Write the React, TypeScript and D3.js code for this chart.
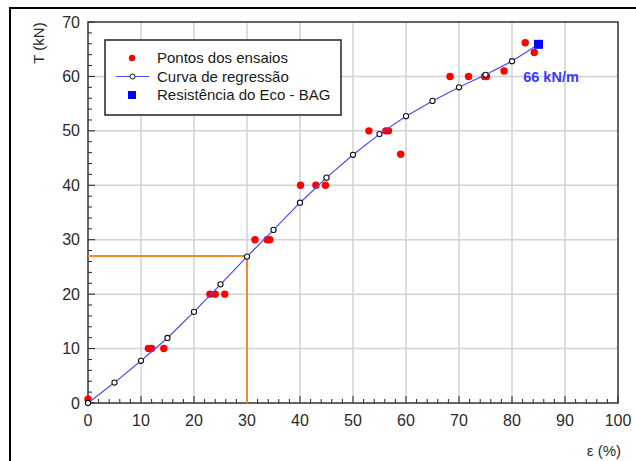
import React, { useEffect } from "react";
import * as d3 from "d3";

// curva de regressão (pontos marcados com círculos)
const regEps = [0, 5, 10, 15, 20, 25, 30, 35, 40, 45, 50, 55, 60, 65, 70, 75, 80];
const regT = [0, 3.75, 7.75, 11.95, 16.75, 21.8, 26.9, 31.8, 36.8, 41.4, 45.6, 49.4, 52.7, 55.5, 58.0, 60.3, 62.8];

// pontos dos ensaios
const testEps = [0, 11.4, 12.0, 14.3, 23.0, 24.0, 25.8, 31.5, 33.8, 34.3, 40.1, 43.0, 44.8, 53.0, 56.2, 56.7, 59.0, 68.3, 71.8, 74.8, 75.2, 78.5, 82.5, 84.2];
const testT = [0.7, 10, 10, 10, 20, 20, 20, 30, 30, 30, 40, 40, 40, 50, 50, 50, 45.7, 60, 60, 60, 60, 61, 66.2, 64.4];

// resistência do Eco - BAG
const ecoEps = [85];
const ecoT = [65.9];

// leitura a 30 %
const refEps = 30;
const refT = 27;

const xTicks = [0, 10, 20, 30, 40, 50, 60, 70, 80, 90, 100];
const yTicks = [0, 10, 20, 30, 40, 50, 60, 70];
const legendLabels = ["Pontos dos ensaios", "Curva de regressão", "Resistência do Eco - BAG"];

const W = 636;
const H = 461;
const margin = { top: 22, right: 18, bottom: 58, left: 88 };

const labelFont = "'Liberation Sans Narrow', 'Arial Narrow', 'Liberation Sans', Arial, sans-serif";
const textFont = "'Liberation Sans', Arial, sans-serif";

export default function App() {
  useEffect(() => {
    document.body.style.margin = "0";
  }, []);

  const x = d3.scaleLinear().domain([0, 100]).range([margin.left, W - margin.right]);
  const y = d3.scaleLinear().domain([0, 70]).range([H - margin.bottom, margin.top]);

  const line = d3.line<number>()
    .x((d, i) => x(i < regEps.length ? regEps[i] : ecoEps[0]))
    .y((d) => y(d));
  const curve = [...regT, ecoT[0]];

  const minorX = d3.range(0, 101, 2).filter((v) => v % 10 !== 0);
  const minorY = d3.range(0, 71, 2).filter((v) => v % 10 !== 0);

  const x0 = x(0), x1 = x(100), y0 = y(0), y1 = y(70);

  const lg = { x: 105, y: 40, w: 236, h: 75 };
  const rowY = [58, 76.5, 95];

  return (
    <svg width={W} height={H} style={{ display: "block" }}>
      <rect x={0} y={0} width={W} height={H} fill="#fff" />
      <rect x={10} y={8} width={W + 20} height={H + 20} fill="none" stroke="#000" strokeWidth={2} />

      {/* grade */}
      {xTicks.slice(1, -1).map((t) => (
        <line key={"gx" + t} x1={x(t)} x2={x(t)} y1={y0} y2={y1} stroke="#d2d2d2" strokeWidth={1.5} />
      ))}
      {yTicks.slice(1, -1).map((t) => (
        <line key={"gy" + t} x1={x0} x2={x1} y1={y(t)} y2={y(t)} stroke="#d2d2d2" strokeWidth={1.5} />
      ))}

      {/* ticks */}
      {minorX.map((t) => (
        <line key={"mx" + t} x1={x(t)} x2={x(t)} y1={y0} y2={y0 - 4} stroke="#222" strokeWidth={1} />
      ))}
      {xTicks.map((t) => (
        <line key={"tx" + t} x1={x(t)} x2={x(t)} y1={y0} y2={y0 - 7} stroke="#222" strokeWidth={1} />
      ))}
      {minorY.map((t) => (
        <line key={"my" + t} x1={x0} x2={x0 + 4} y1={y(t)} y2={y(t)} stroke="#222" strokeWidth={1} />
      ))}
      {yTicks.map((t) => (
        <line key={"ty" + t} x1={x0} x2={x0 + 7} y1={y(t)} y2={y(t)} stroke="#222" strokeWidth={1} />
      ))}

      <rect x={x0} y={y1} width={x1 - x0} height={y0 - y1} fill="none" stroke="#333" strokeWidth={1.5} />

      {/* rótulos dos eixos */}
      {xTicks.map((t) => (
        <text key={"lx" + t} x={x(t)} y={y0 + 23} textAnchor="middle" fontFamily={labelFont} fontSize={16} fill="#2a2a2a">{t}</text>
      ))}
      {yTicks.map((t) => (
        <text key={"ly" + t} x={x0 - 8} y={y(t)} dy="0.35em" textAnchor="end" fontFamily={labelFont} fontSize={16} fill="#2a2a2a">{t}</text>
      ))}
      <text x={621} y={456} textAnchor="end" fontFamily={textFont} fontSize={15} fill="#2a2a2a">ε (%)</text>
      <text transform="translate(44,43) rotate(-90)" textAnchor="middle" fontFamily={textFont} fontSize={15} fill="#2a2a2a">T (kN)</text>

      {/* leitura a 30% */}
      <path d={`M${x0},${y(refT)}H${x(refEps)}V${y0}`} fill="none" stroke="#f08a2c" strokeWidth={2} />

      {/* legenda */}
      <rect x={lg.x} y={lg.y} width={lg.w} height={lg.h} fill="#fff" stroke="#222" strokeWidth={1.5} />
      <circle cx={132} cy={rowY[0]} r={3.2} fill="#ff0000" />
      <line x1={116} x2={149} y1={rowY[1]} y2={rowY[1]} stroke="#4a4aff" strokeWidth={1.2} />
      <circle cx={132.5} cy={rowY[1]} r={2.5} fill="#fff" stroke="#111" strokeWidth={1} />
      <rect x={128} y={rowY[2] - 4} width={8} height={8} fill="#0000ff" />
      {legendLabels.map((s, i) => (
        <text key={s} x={157} y={rowY[i]} dy="0.35em" fontFamily={textFont} fontSize={15} fill="#1a1a1a">{s}</text>
      ))}

      {/* pontos dos ensaios */}
      {testEps.map((e, i) => (
        <circle key={"p" + i} cx={x(e)} cy={y(testT[i])} r={3.7} fill="#ff0000" />
      ))}

      {/* curva de regressão */}
      <path d={line(curve) || ""} fill="none" stroke="#4a4aff" strokeWidth={1.2} />
      {regEps.map((e, i) => (
        <circle key={"r" + i} cx={x(e)} cy={y(regT[i])} r={2.6} fill="#fff" stroke="#111" strokeWidth={1.1} />
      ))}

      {/* eco - BAG */}
      {ecoEps.map((e, i) => (
        <rect key={"e" + i} x={x(e) - 4.5} y={y(ecoT[i]) - 4.5} width={9} height={9} fill="#0000ff" />
      ))}
      <text x={551} y={y(60)} dy="0.35em" textAnchor="middle" fontFamily={textFont} fontSize={14.5} fontWeight="bold" fill="#3a3aff">66 kN/m</text>
    </svg>
  );
}
